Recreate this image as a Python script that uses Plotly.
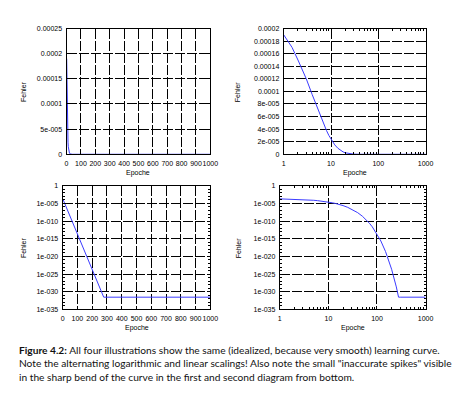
import plotly.graph_objects as go

# Data (idealized learning curve)
epochs = [1, 1.5, 2, 2.5, 3, 4, 5, 6, 7, 8, 9, 10, 12, 14, 16, 18, 20, 25, 30, 40,
          50, 60, 70, 80, 100, 120, 150, 200, 250, 278, 300, 500, 700, 1000]
errors = [1.9e-4, 1.7e-4, 1.5e-4, 1.35e-4, 1.2e-4, 9.5e-5, 7.6e-5, 6.0e-5, 4.8e-5, 3.8e-5,
          3.0e-5, 2.4e-5, 1.5e-5, 9.5e-6, 6.0e-6, 3.8e-6, 2.4e-6, 7.6e-7, 2.4e-7, 2.4e-8,
          2.4e-9, 2.4e-10, 2.4e-11, 2.4e-12, 2.4e-14, 2.4e-16, 2.4e-19, 2.4e-24, 2.4e-29,
          3e-32, 3e-32, 3e-32, 3e-32, 3e-32]

lin_x_ticks = [0, 100, 200, 300, 400, 500, 600, 700, 800, 900, 1000]
log_x_ticks = [1, 10, 100, 1000]
log_x_minor = [2, 3, 4, 5, 6, 7, 8, 9, 20, 30, 40, 50, 60, 70, 80, 90,
               200, 300, 400, 500, 600, 700, 800, 900]
y1_ticks = [0, 5e-5, 1e-4, 1.5e-4, 2e-4, 2.5e-4]
y1_labels = ["0", "5e-005", "0.0001", "0.00015", "0.0002", "0.00025"]
y2_ticks = [0, 2e-5, 4e-5, 6e-5, 8e-5, 1e-4, 1.2e-4, 1.4e-4, 1.6e-4, 1.8e-4, 2e-4]
y2_labels = ["0", "2e-005", "4e-005", "6e-005", "8e-005", "0.0001", "0.00012",
             "0.00014", "0.00016", "0.00018", "0.0002"]
ylog_ticks = [1, 1e-5, 1e-10, 1e-15, 1e-20, 1e-25, 1e-30, 1e-35]
ylog_labels = ["1", "1e-005", "1e-010", "1e-015", "1e-020", "1e-025", "1e-030", "1e-035"]
ylog_minor = [10.0 ** -k for k in range(1, 35) if k % 5 != 0]
caption = ["<b>Figure 4.2:</b> All four illustrations show the same (idealized, because very smooth) learning curve.",
           "Note the alternating logarithmic and linear scalings! Also note the small \"inaccurate spikes\" visible",
           "in the sharp bend of the curve in the first and second diagram from bottom."]

W, H = 459, 394
def fx(px): return px / W
def fy(py): return 1 - py / H

boxes = {
    1: (66, 213, 25, 153),
    2: (288, 433, 25, 153),
    3: (62, 213, 185, 311),
    4: (284, 433, 185, 311),
}

fig = go.Figure()
line = dict(color="#3b3bff", width=1)
for i in range(1, 5):
    sx = "" if i == 1 else str(i)
    fig.add_trace(go.Scatter(x=epochs, y=errors, mode="lines", line=line,
                             xaxis="x" + sx, yaxis="y" + sx, showlegend=False,
                             hoverinfo="skip"))

tickfont = dict(family="Liberation Sans Narrow, Liberation Sans", size=7, color="black")
gridcommon = dict(showgrid=True, gridcolor="black", gridwidth=1, griddash="10px,2px",
                  showline=True, linecolor="black", linewidth=1, mirror="allticks",
                  ticks="inside", ticklen=3, tickcolor="black", tickfont=tickfont,
                  zeroline=False, ticklabelstandoff=2, tickangle=0)

layout = dict(width=W, height=H, margin=dict(l=0, r=0, t=0, b=0),
              paper_bgcolor="white", plot_bgcolor="white")

for i in range(1, 5):
    x0, x1, y0, y1 = boxes[i]
    sx = "" if i == 1 else str(i)
    xa = dict(gridcommon, domain=[fx(x0), fx(x1)], anchor="y" + sx)
    ya = dict(gridcommon, domain=[fy(y1), fy(y0)], anchor="x" + sx)
    if i in (1, 3):
        xa.update(type="linear", range=[0, 1000], tickvals=lin_x_ticks)
    else:
        xa.update(type="log", range=[0, 3], tickvals=log_x_ticks,
                  ticktext=[str(v) for v in log_x_ticks],
                  minor=dict(ticks="inside", ticklen=2, tickcolor="black", showgrid=False,
                             tickvals=log_x_minor))
    if i == 1:
        ya.update(type="linear", range=[0, 2.5e-4], tickvals=y1_ticks, ticktext=y1_labels)
    elif i == 2:
        ya.update(type="linear", range=[0, 2e-4], tickvals=y2_ticks, ticktext=y2_labels)
    else:
        ya.update(type="log", range=[-35, 0], tickvals=ylog_ticks, ticktext=ylog_labels,
                  minor=dict(ticks="inside", ticklen=2, tickcolor="black", showgrid=False,
                             tickvals=ylog_minor))
    layout["xaxis" + sx] = xa
    layout["yaxis" + sx] = ya

annotations = []
labfont = dict(family="Liberation Sans", size=7, color="black")
for i in range(1, 5):
    x0, x1, y0, y1 = boxes[i]
    ey = 172 if i < 3 else 330
    annotations.append(dict(text="Epoche", x=fx((x0 + x1) / 2), y=fy(ey), xref="paper",
                            yref="paper", showarrow=False, font=labfont,
                            xanchor="center", yanchor="middle"))
fehler_x = {1: 22, 2: 241, 3: 22, 4: 242}
for i in range(1, 5):
    x0, x1, y0, y1 = boxes[i]
    annotations.append(dict(text="Fehler", x=fx(fehler_x[i]), y=fy((y0 + y1) / 2),
                            xref="paper", yref="paper", showarrow=False, font=labfont,
                            textangle=-90, xanchor="center", yanchor="middle"))
cap_y = [352, 366, 380]
for t, yy in zip(caption, cap_y):
    annotations.append(dict(text=t, x=fx(15), y=fy(yy), xref="paper", yref="paper",
                            showarrow=False, xanchor="left", yanchor="middle",
                            font=dict(family="Lato", size=10.2, color="#111")))
layout["annotations"] = annotations

fig.update_layout(**layout)
fig.write_html("out.html", config={"displayModeBar": False},
               post_script="document.body.style.margin='0';")
